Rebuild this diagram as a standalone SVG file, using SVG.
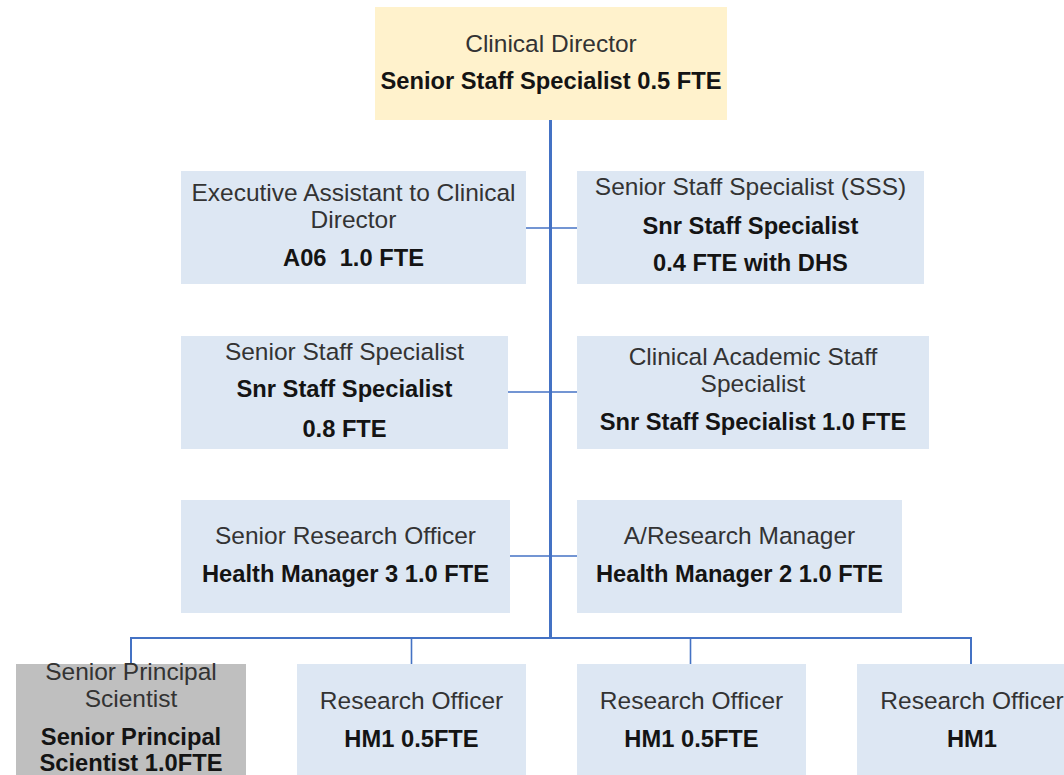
<svg xmlns="http://www.w3.org/2000/svg" width="1064" height="775" viewBox="0 0 1064 775">
<style>
.box{fill:#DDE7F3}
.top{fill:#FFF2CC}
.grey{fill:#BFBFBF}
text{font-family:"Liberation Sans",Arial,sans-serif;text-anchor:middle}
.r{fill:#333333;font-size:24.5px}
.b{fill:#141414;font-weight:bold;font-size:23.7px}
.trunk{stroke:#4472C4;stroke-width:3;fill:none}
.ln{stroke:#4472C4;stroke-width:1.6;fill:none}
</style>
<rect width="1064" height="775" fill="#FFFFFF"/>
<g id="connectors">
<line class="trunk" x1="550.5" y1="120" x2="550.5" y2="639"/>
<line class="ln" x1="526" y1="228" x2="577" y2="228"/>
<line class="ln" x1="508" y1="392" x2="577" y2="392"/>
<line class="ln" x1="510" y1="556" x2="577" y2="556"/>
<polyline class="ln" points="131,664 131,638 971,638 971,664" style="stroke-width:2"/>
<line class="ln" x1="411.5" y1="638" x2="411.5" y2="664"/>
<line class="ln" x1="690.5" y1="638" x2="690.5" y2="664"/>
</g>
<g id="clinical-director">
<rect class="top" x="375" y="7" width="352" height="113"/>
<text class="r" x="551" y="52">Clinical Director</text>
<text class="b" x="551" y="89">Senior Staff Specialist 0.5 FTE</text>
</g>
<g id="executive-assistant">
<rect class="box" x="181" y="171" width="345" height="113"/>
<text class="r" x="353.5" y="201">Executive Assistant to Clinical</text>
<text class="r" x="353.5" y="228">Director</text>
<text class="b" x="353.5" y="266" xml:space="preserve">A06  1.0 FTE</text>
</g>
<g id="senior-staff-specialist-sss">
<rect class="box" x="577" y="171" width="347" height="113"/>
<text class="r" x="750.5" y="195">Senior Staff Specialist (SSS)</text>
<text class="b" x="750.5" y="234">Snr Staff Specialist</text>
<text class="b" x="750.5" y="271">0.4 FTE with DHS</text>
</g>
<g id="senior-staff-specialist">
<rect class="box" x="181" y="336" width="327" height="113"/>
<text class="r" x="344.5" y="360">Senior Staff Specialist</text>
<text class="b" x="344.5" y="397">Snr Staff Specialist</text>
<text class="b" x="344.5" y="437">0.8 FTE</text>
</g>
<g id="clinical-academic">
<rect class="box" x="577" y="336" width="352" height="113"/>
<text class="r" x="753" y="365">Clinical Academic Staff</text>
<text class="r" x="753" y="392">Specialist</text>
<text class="b" x="753" y="430">Snr Staff Specialist 1.0 FTE</text>
</g>
<g id="senior-research-officer">
<rect class="box" x="181" y="500" width="329" height="113"/>
<text class="r" x="345.5" y="544">Senior Research Officer</text>
<text class="b" x="345.5" y="582">Health Manager 3 1.0 FTE</text>
</g>
<g id="research-manager">
<rect class="box" x="577" y="500" width="325" height="113"/>
<text class="r" x="739.5" y="544">A/Research Manager</text>
<text class="b" x="739.5" y="582">Health Manager 2 1.0 FTE</text>
</g>
<g id="senior-principal-scientist">
<rect class="grey" x="16" y="664" width="230" height="120"/>
<text class="r" x="131" y="680">Senior Principal</text>
<text class="r" x="131" y="707">Scientist</text>
<text class="b" x="131" y="745">Senior Principal</text>
<text class="b" x="131" y="771">Scientist 1.0FTE</text>
</g>
<g id="research-officer-1">
<rect class="box" x="297" y="664" width="229" height="120"/>
<text class="r" x="411.5" y="709">Research Officer</text>
<text class="b" x="411.5" y="747">HM1 0.5FTE</text>
</g>
<g id="research-officer-2">
<rect class="box" x="577" y="664" width="229" height="120"/>
<text class="r" x="691.5" y="709">Research Officer</text>
<text class="b" x="691.5" y="747">HM1 0.5FTE</text>
</g>
<g id="research-officer-3">
<rect class="box" x="857" y="664" width="229" height="120"/>
<text class="r" x="972" y="709">Research Officer</text>
<text class="b" x="972" y="747">HM1</text>
</g>
</svg>
